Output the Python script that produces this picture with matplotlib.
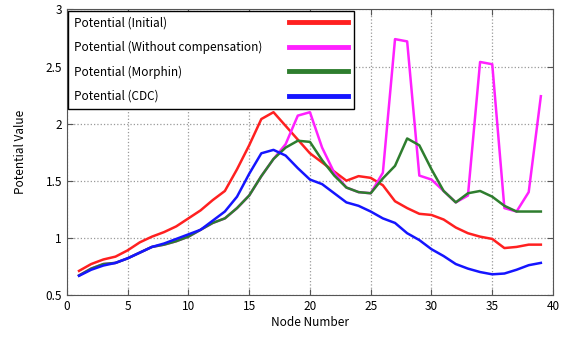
import numpy as np
import matplotlib
matplotlib.use("Agg")
import matplotlib.pyplot as plt

plt.rcParams['font.family'] = ['Noto Sans CJK JP', 'DejaVu Sans']

nodes = np.arange(1, 40)

initial = [0.71, 0.77, 0.81, 0.835, 0.89, 0.96, 1.01, 1.05, 1.10, 1.17,
           1.24, 1.33, 1.41, 1.60, 1.81, 2.04, 2.10, 1.98, 1.86, 1.74,
           1.66, 1.58, 1.50, 1.54, 1.525, 1.46, 1.32, 1.26, 1.21, 1.20,
           1.16, 1.09, 1.04, 1.01, 0.99, 0.91, 0.92, 0.94, 0.94]

without_comp = [0.67, 0.73, 0.77, 0.78, 0.82, 0.87, 0.92, 0.94, 0.97, 1.01,
                1.07, 1.13, 1.17, 1.26, 1.37, 1.54, 1.69, 1.82, 2.07, 2.10,
                1.79, 1.57, 1.44, 1.40, 1.39, 1.57, 2.74, 2.72, 1.545, 1.51,
                1.41, 1.31, 1.37, 2.54, 2.52, 1.26, 1.23, 1.40, 2.24]

morphin = [0.67, 0.73, 0.77, 0.78, 0.82, 0.87, 0.92, 0.94, 0.97, 1.01,
           1.07, 1.13, 1.17, 1.26, 1.37, 1.54, 1.69, 1.79, 1.85, 1.84,
           1.68, 1.545, 1.44, 1.40, 1.39, 1.52, 1.63, 1.87, 1.81, 1.60,
           1.41, 1.31, 1.39, 1.41, 1.36, 1.28, 1.23, 1.23, 1.23]

cdc = [0.667, 0.72, 0.757, 0.78, 0.82, 0.87, 0.92, 0.95, 0.99, 1.03,
       1.07, 1.15, 1.23, 1.36, 1.56, 1.74, 1.77, 1.72, 1.61, 1.51,
       1.47, 1.39, 1.31, 1.28, 1.23, 1.17, 1.13, 1.04, 0.98, 0.90,
       0.84, 0.77, 0.73, 0.70, 0.68, 0.687, 0.72, 0.76, 0.78]

labels = ["Potential (Initial)", "Potential (Without compensation)",
          "Potential (Morphin)", "Potential (CDC)"]
colors = ["#ff2020", "#ff20ff", "#2e7d2e", "#1515ff"]

fig = plt.figure(figsize=(5.62, 3.37), dpi=100)
ax = fig.add_axes([0.119, 0.125, 0.865, 0.847])

for series, lab, col in zip([initial, without_comp, morphin, cdc], labels, colors):
    ax.plot(nodes, series, color=col, lw=1.8, label=lab)

ax.set_xlim(0, 40)
ax.set_ylim(0.5, 3)
ax.set_xticks(np.arange(0, 41, 5))
ax.set_yticks([0.5, 1, 1.5, 2, 2.5, 3])
ax.set_yticklabels(["0.5", "1", "1.5", "2", "2.5", "3"])
ax.grid(True, ls=':', color='#999999', lw=0.9)
ax.tick_params(direction='in', top=True, right=True, labelsize=8.5, length=4,
               color='#555555')
for s in ax.spines.values():
    s.set_color('#555555')

ax.set_xlabel("Node Number", fontsize=8.5, labelpad=2)
ax.set_ylabel("Potential Value", fontsize=8.5, labelpad=13)

leg = ax.legend(loc='upper left', fontsize=8.5, markerfirst=False,
                handlelength=5.0, handletextpad=1.2, labelspacing=0.95,
                fancybox=False, framealpha=1, edgecolor='black',
                borderaxespad=0.1, borderpad=0.5)
for line in leg.get_lines():
    line.set_linewidth(3.5)
leg.get_frame().set_linewidth(1.0)

# left-align the label text, keep the line samples at the right edge
for col in leg._legend_handle_box.get_children():
    for row in col.get_children():
        row.mode = 'expand'
        row.width = 274

fig.savefig("out.png", dpi=100)
